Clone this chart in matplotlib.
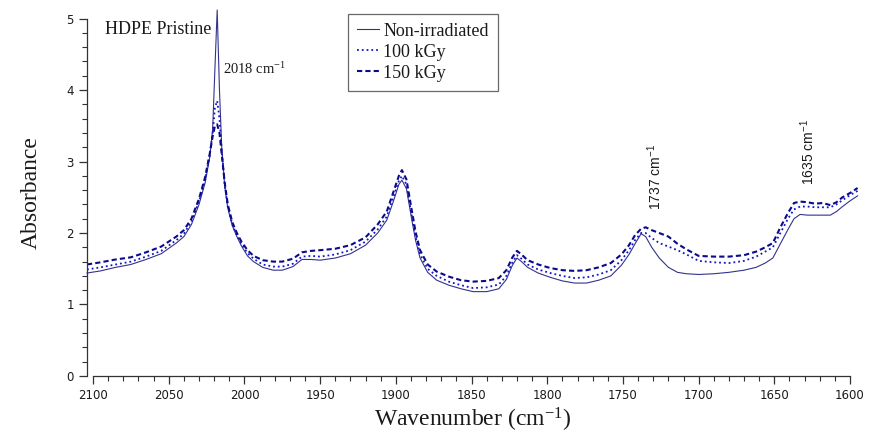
import matplotlib
matplotlib.use('Agg')
import matplotlib.pyplot as plt
from matplotlib.ticker import MultipleLocator

plt.rcParams['mathtext.default'] = 'regular'

# Wavenumber grid (cm-1) and absorbance
wavenumber = [2104, 2095, 2085, 2075, 2065, 2055, 2045, 2040, 2035, 2030,
              2026, 2023, 2021, 2019.5, 2018, 2016.5, 2015, 2013, 2011, 2008,
              2005, 2002, 1998, 1994, 1988, 1981, 1975, 1968, 1962, 1956,
              1950, 1940, 1930, 1920, 1912, 1906, 1902, 1898, 1896, 1893,
              1890, 1887, 1884, 1879, 1873, 1865, 1857, 1849, 1840, 1832,
              1827, 1823, 1820, 1817, 1813, 1806, 1798, 1790, 1782, 1774,
              1766, 1758, 1751, 1746, 1742, 1738, 1735, 1731, 1726, 1720,
              1714, 1708, 1700, 1690, 1680, 1670, 1662, 1656, 1651, 1646,
              1641, 1637, 1633, 1628, 1623, 1618, 1613, 1609, 1605, 1600, 1595]

non_irradiated = [1.44, 1.47, 1.52, 1.56, 1.63, 1.71, 1.86, 1.95, 2.12, 2.40,
                  2.70, 3.05, 3.45, 4.30, 5.12, 4.00, 3.20, 2.65, 2.35, 2.10,
                  1.95, 1.82, 1.68, 1.60, 1.52, 1.48, 1.48, 1.53, 1.63, 1.63,
                  1.62, 1.65, 1.71, 1.83, 2.00, 2.18, 2.42, 2.68, 2.74, 2.62,
                  2.25, 1.90, 1.65, 1.45, 1.34, 1.27, 1.22, 1.18, 1.18, 1.22,
                  1.35, 1.55, 1.65, 1.60, 1.52, 1.44, 1.38, 1.33, 1.30, 1.30,
                  1.34, 1.40, 1.55, 1.70, 1.85, 1.99, 1.95, 1.80, 1.65, 1.52,
                  1.45, 1.43, 1.42, 1.43, 1.45, 1.48, 1.52, 1.58, 1.65, 1.85,
                  2.05, 2.20, 2.26, 2.25, 2.25, 2.25, 2.25, 2.30, 2.37, 2.45, 2.52]

kgy_100 = [1.49, 1.52, 1.56, 1.60, 1.67, 1.75, 1.90, 1.99, 2.16, 2.44,
           2.74, 3.08, 3.40, 3.75, 3.85, 3.60, 3.15, 2.67, 2.37, 2.12,
           1.97, 1.85, 1.72, 1.64, 1.56, 1.53, 1.53, 1.57, 1.67, 1.68,
           1.67, 1.70, 1.76, 1.88, 2.05, 2.23, 2.48, 2.73, 2.80, 2.68,
           2.30, 1.95, 1.70, 1.50, 1.40, 1.32, 1.27, 1.23, 1.24, 1.28,
           1.40, 1.59, 1.69, 1.64, 1.56, 1.49, 1.44, 1.40, 1.37, 1.38,
           1.42, 1.48, 1.62, 1.76, 1.90, 2.00, 2.00, 1.93, 1.86, 1.81,
           1.76, 1.70, 1.61, 1.59, 1.58, 1.61, 1.67, 1.74, 1.80, 2.00,
           2.20, 2.33, 2.37, 2.37, 2.36, 2.36, 2.36, 2.40, 2.46, 2.53, 2.59]

kgy_150 = [1.56, 1.59, 1.63, 1.66, 1.73, 1.81, 1.95, 2.04, 2.20, 2.48,
           2.78, 3.10, 3.35, 3.50, 3.52, 3.40, 3.10, 2.70, 2.40, 2.15,
           2.00, 1.88, 1.76, 1.68, 1.62, 1.60, 1.60, 1.64, 1.73, 1.75,
           1.76, 1.78, 1.83, 1.94, 2.12, 2.30, 2.55, 2.80, 2.88, 2.75,
           2.38, 2.02, 1.76, 1.56, 1.46, 1.39, 1.34, 1.32, 1.33, 1.37,
           1.48, 1.66, 1.75, 1.70, 1.62, 1.56, 1.51, 1.48, 1.47, 1.48,
           1.52, 1.58, 1.70, 1.83, 1.97, 2.06, 2.08, 2.04, 2.00, 1.95,
           1.85, 1.77, 1.68, 1.67, 1.67, 1.69, 1.74, 1.80, 1.86, 2.08,
           2.28, 2.42, 2.44, 2.43, 2.41, 2.42, 2.39, 2.43, 2.50, 2.56, 2.63]

serif = 'Liberation Serif'
txt = '#1a1a1a'

fig = plt.figure(figsize=(8.69, 4.38), dpi=100)
ax = fig.add_axes([0.1001, 0.1416, 0.8868, 0.8356])

ax.plot(wavenumber, non_irradiated, '-', color='#33338f', lw=0.8,
        label='Non-irradiated', clip_on=False)
ax.plot(wavenumber, kgy_100, ':', color='#1414c8', lw=1.3, label='100 kGy')
ax.plot(wavenumber, kgy_150, '--', color='#0a0a8c', lw=1.5,
        dashes=(2.5, 1.5), label='150 kGy')

ax.set_xlim(2104, 1595)
ax.set_ylim(0, 5.12)
ax.spines['top'].set_visible(False)
ax.spines['right'].set_visible(False)
ax.spines['bottom'].set_bounds(1600, 2100)
ax.spines['left'].set_bounds(0, 5)
for s in ('bottom', 'left'):
    ax.spines[s].set_color('#333333')
    ax.spines[s].set_linewidth(0.9)

ax.xaxis.set_major_locator(MultipleLocator(50))
ax.xaxis.set_minor_locator(MultipleLocator(10))
ax.yaxis.set_major_locator(MultipleLocator(1))
ax.yaxis.set_minor_locator(MultipleLocator(0.2))
ax.tick_params(which='major', direction='out', length=6, width=0.9,
               color='#333333', labelsize=8.5, labelcolor=txt)
ax.tick_params(which='minor', direction='out', length=3.5, width=0.8,
               color='#333333')
ax.set_xticks([t for t in range(1600, 2101, 50)])

ax.set_xlabel('Wavenumber (cm$^{-1}$)', family=serif, fontsize=17,
              color=txt, labelpad=3)
ax.set_ylabel('Absorbance', family=serif, fontsize=17, color=txt, labelpad=18)

ax.text(2092, 4.85, 'HDPE Pristine', family=serif, fontsize=13,
        color=txt, va='center')
ax.text(2014, 4.3, '2018 cm$^{-1}$', family=serif, fontsize=10.5,
        color=txt, va='center')
ax.text(1729, 2.78, '1737 cm$^{-1}$', family='Liberation Sans', fontsize=10,
        color=txt, rotation=90, ha='center', va='center')
ax.text(1628, 3.13, '1635 cm$^{-1}$', family='Liberation Sans', fontsize=10,
        color=txt, rotation=90, ha='center', va='center')

leg = ax.legend(loc='upper left', bbox_to_anchor=(0.339, 0.99),
                prop={'family': serif, 'size': 13}, frameon=True,
                fancybox=False, handlelength=1.2, handletextpad=0.25,
                borderpad=0.5, labelspacing=0.22, borderaxespad=0)
leg.get_frame().set_edgecolor('#444444')
leg.get_frame().set_linewidth(0.9)
for t in leg.get_texts():
    t.set_color(txt)

fig.savefig('out.png', dpi=100)
